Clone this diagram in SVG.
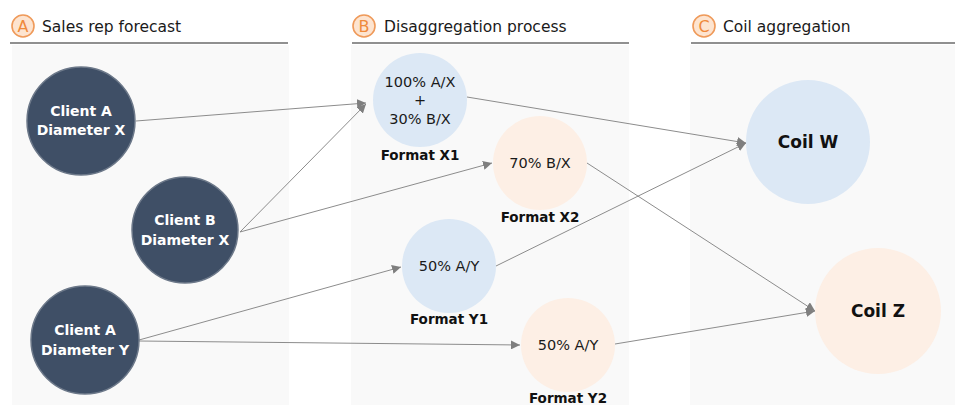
<svg xmlns="http://www.w3.org/2000/svg" width="955" height="407" viewBox="0 0 955 407">
  <defs>
    <marker id="arrow" viewBox="0 0 10 10" refX="10" refY="5" markerWidth="9" markerHeight="9" markerUnits="userSpaceOnUse" orient="auto">
      <path d="M0,0 L10,5 L0,10 z" fill="#7f7f7f"/>
    </marker>
    <style>
      .panel { fill: #f9f9f9; }
      .rule { stroke: #6b6b6b; stroke-width: 1.3; }
      .badge { fill: #fde4d0; stroke: #ef9a5a; stroke-width: 1.6; }
      .badge-t { font-family: "DejaVu Sans", "Liberation Sans", sans-serif; font-size: 16px; fill: #ef8a3c; text-anchor: middle; }
      .title { font-family: "DejaVu Sans", "Liberation Sans", sans-serif; font-size: 15.5px; fill: #1a1a1a; }
      .client { fill: #3f4f66; stroke: #6c7889; stroke-width: 1.5; }
      .client-t { font-family: "DejaVu Sans", "Liberation Sans", sans-serif; font-size: 14px; font-weight: bold; fill: #ffffff; text-anchor: middle; }
      .blue { fill: #dce8f5; }
      .peach { fill: #fdefe5; }
      .pct { font-family: "DejaVu Sans", "Liberation Sans", sans-serif; font-size: 14.5px; fill: #1a1a1a; text-anchor: middle; }
      .lbl { font-family: "DejaVu Sans", "Liberation Sans", sans-serif; font-size: 13.5px; font-weight: bold; fill: #111111; text-anchor: middle; }
      .coil-t { font-family: "DejaVu Sans", "Liberation Sans", sans-serif; font-size: 17px; font-weight: bold; fill: #111111; text-anchor: middle; }
      .edge { stroke: #8c8c8c; stroke-width: 1; fill: none; marker-end: url(#arrow); }
    </style>
  </defs>

  <rect width="955" height="407" fill="#ffffff"/>

  <!-- column backgrounds -->
  <rect class="panel" x="12" y="45" width="277" height="360"/>
  <rect class="panel" x="351" y="45" width="278" height="360"/>
  <rect class="panel" x="690" y="45" width="265" height="360"/>

  <!-- column headers -->
  <g id="header-a">
    <circle class="badge" cx="23" cy="26" r="11"/>
    <text class="badge-t" x="23" y="32">A</text>
    <text class="title" x="42" y="32">Sales rep forecast</text>
    <line class="rule" x1="10" y1="43" x2="288" y2="43"/>
  </g>
  <g id="header-b">
    <circle class="badge" cx="364" cy="26" r="11"/>
    <text class="badge-t" x="364" y="32">B</text>
    <text class="title" x="384" y="32">Disaggregation process</text>
    <line class="rule" x1="352" y1="43" x2="629" y2="43"/>
  </g>
  <g id="header-c">
    <circle class="badge" cx="704" cy="26" r="11"/>
    <text class="badge-t" x="704" y="32">C</text>
    <text class="title" x="723" y="32">Coil aggregation</text>
    <line class="rule" x1="691" y1="43" x2="955" y2="43"/>
  </g>

  <!-- connectors -->
  <g id="connectors">
    <line class="edge" x1="136" y1="121" x2="366" y2="103"/>
    <line class="edge" x1="240" y1="232" x2="366" y2="104"/>
    <line class="edge" x1="240" y1="232" x2="492" y2="163"/>
    <line class="edge" x1="139" y1="340" x2="401" y2="267"/>
    <line class="edge" x1="139" y1="341" x2="520" y2="345"/>
    <line class="edge" x1="467" y1="97" x2="746" y2="143"/>
    <line class="edge" x1="587" y1="163" x2="815" y2="311"/>
    <line class="edge" x1="496" y1="266" x2="746" y2="143"/>
    <line class="edge" x1="615" y1="344" x2="815" y2="311"/>
  </g>

  <!-- sales rep forecast -->
  <g id="client-a-x">
    <circle class="client" cx="81" cy="121" r="54"/>
    <text class="client-t" x="81" y="116">Client A</text>
    <text class="client-t" x="81" y="135">Diameter X</text>
  </g>
  <g id="client-b-x">
    <circle class="client" cx="185" cy="230" r="53"/>
    <text class="client-t" x="185" y="225">Client B</text>
    <text class="client-t" x="185" y="245">Diameter X</text>
  </g>
  <g id="client-a-y">
    <circle class="client" cx="85" cy="340" r="54"/>
    <text class="client-t" x="85" y="335">Client A</text>
    <text class="client-t" x="85" y="355">Diameter Y</text>
  </g>

  <!-- disaggregation process -->
  <g id="format-x1">
    <circle class="blue" cx="420" cy="100" r="47"/>
    <text class="pct" x="420" y="87">100% A/X</text>
    <text class="pct" x="420" y="105">+</text>
    <text class="pct" x="420" y="124">30% B/X</text>
    <text class="lbl" x="420" y="160">Format X1</text>
  </g>
  <g id="format-x2">
    <circle class="peach" cx="540" cy="163" r="47"/>
    <text class="pct" x="540" y="168">70% B/X</text>
    <text class="lbl" x="540" y="222">Format X2</text>
  </g>
  <g id="format-y1">
    <circle class="blue" cx="449" cy="266" r="47"/>
    <text class="pct" x="449" y="271">50% A/Y</text>
    <text class="lbl" x="449" y="324">Format Y1</text>
  </g>
  <g id="format-y2">
    <circle class="peach" cx="568" cy="345" r="47"/>
    <text class="pct" x="568" y="350">50% A/Y</text>
    <text class="lbl" x="568" y="403">Format Y2</text>
  </g>

  <!-- coil aggregation -->
  <g id="coil-w">
    <circle class="blue" cx="808" cy="142" r="62"/>
    <text class="coil-t" x="808" y="148">Coil W</text>
  </g>
  <g id="coil-z">
    <circle class="peach" cx="878" cy="311" r="63"/>
    <text class="coil-t" x="878" y="317">Coil Z</text>
  </g>
</svg>
